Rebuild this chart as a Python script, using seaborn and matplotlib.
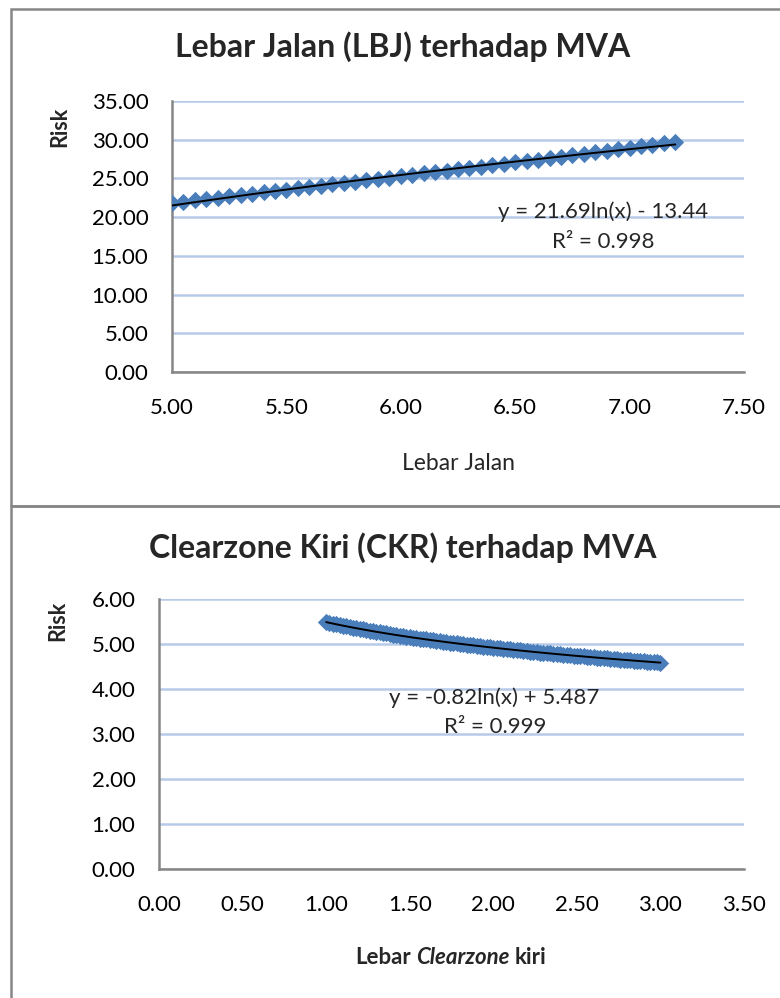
import numpy as np
import pandas as pd
import matplotlib
matplotlib.use('Agg')
import matplotlib.pyplot as plt
from matplotlib.patches import Rectangle
import seaborn as sns

sns.set_theme(style='white')
plt.rcParams['font.family'] = ['Lato', 'DejaVu Sans']

# ---- data: Lebar Jalan (LBJ) vs risk ----
lbj_x = [5.00, 5.05, 5.10, 5.15, 5.20, 5.25, 5.30, 5.35, 5.40, 5.45,
         5.50, 5.55, 5.60, 5.65, 5.70, 5.75, 5.80, 5.85, 5.90, 5.95,
         6.00, 6.05, 6.10, 6.15, 6.20, 6.25, 6.30, 6.35, 6.40, 6.45,
         6.50, 6.55, 6.60, 6.65, 6.70, 6.75, 6.80, 6.85, 6.90, 6.95,
         7.00, 7.05, 7.10, 7.15, 7.20]
lbj_risk = [21.80, 21.98, 22.15, 22.32, 22.49, 22.67, 22.84, 23.02, 23.19, 23.36,
            23.54, 23.70, 23.88, 24.05, 24.23, 24.40, 24.58, 24.75, 24.93, 25.10,
            25.28, 25.46, 25.64, 25.82, 25.99, 26.17, 26.35, 26.53, 26.71, 26.89,
            27.08, 27.26, 27.44, 27.62, 27.82, 28.00, 28.19, 28.38, 28.56, 28.75,
            28.94, 29.13, 29.32, 29.52, 29.71]

# ---- data: Clearzone kiri (CKR) vs risk ----
ckr_x = [1.00, 1.02, 1.04, 1.06, 1.08, 1.10, 1.12, 1.14, 1.16, 1.18,
         1.20, 1.22, 1.24, 1.26, 1.28, 1.30, 1.32, 1.34, 1.36, 1.38,
         1.40, 1.42, 1.44, 1.46, 1.48, 1.50, 1.52, 1.54, 1.56, 1.58,
         1.60, 1.62, 1.64, 1.66, 1.68, 1.70, 1.72, 1.74, 1.76, 1.78,
         1.80, 1.82, 1.84, 1.86, 1.88, 1.90, 1.92, 1.94, 1.96, 1.98,
         2.00, 2.02, 2.04, 2.06, 2.08, 2.10, 2.12, 2.14, 2.16, 2.18,
         2.20, 2.22, 2.24, 2.26, 2.28, 2.30, 2.32, 2.34, 2.36, 2.38,
         2.40, 2.42, 2.44, 2.46, 2.48, 2.50, 2.52, 2.54, 2.56, 2.58,
         2.60, 2.62, 2.64, 2.66, 2.68, 2.70, 2.72, 2.74, 2.76, 2.78,
         2.80, 2.82, 2.84, 2.86, 2.88, 2.90, 2.92, 2.94, 2.96, 2.98,
         3.00]
ckr_risk = [5.487, 5.471, 5.455, 5.439, 5.424, 5.409, 5.394, 5.380, 5.365, 5.351,
            5.337, 5.324, 5.311, 5.297, 5.285, 5.272, 5.259, 5.247, 5.235, 5.223,
            5.211, 5.199, 5.188, 5.177, 5.166, 5.155, 5.144, 5.133, 5.122, 5.112,
            5.102, 5.091, 5.081, 5.071, 5.062, 5.052, 5.042, 5.033, 5.023, 5.014,
            5.005, 4.996, 4.987, 4.978, 4.969, 4.961, 4.952, 4.944, 4.935, 4.927,
            4.919, 4.910, 4.902, 4.894, 4.886, 4.879, 4.871, 4.863, 4.856, 4.848,
            4.840, 4.833, 4.826, 4.818, 4.811, 4.804, 4.797, 4.790, 4.783, 4.776,
            4.769, 4.762, 4.756, 4.749, 4.742, 4.736, 4.729, 4.723, 4.716, 4.710,
            4.703, 4.697, 4.691, 4.685, 4.679, 4.673, 4.666, 4.660, 4.655, 4.649,
            4.643, 4.637, 4.631, 4.625, 4.620, 4.614, 4.608, 4.603, 4.597, 4.592,
            4.586]

lbj_yticks = [0, 5, 10, 15, 20, 25, 30, 35]
lbj_xticks = [5.0, 5.5, 6.0, 6.5, 7.0, 7.5]
ckr_yticks = [0, 1, 2, 3, 4, 5, 6]
ckr_xticks = [0.0, 0.5, 1.0, 1.5, 2.0, 2.5, 3.0, 3.5]

BLUE = '#4A7EBB'
GRID = '#B7CBE8'
SPINE = '#868686'
W, H = 780, 998
TICK_FS = 16
TITLE_FS = 23

fig = plt.figure(figsize=(W / 100, H / 100), dpi=100)


def px_axes(left, top, right, bottom):
    return fig.add_axes([left / W, 1 - bottom / H, (right - left) / W, (bottom - top) / H])


def draw_panel(ax, x, y, xticks, yticks):
    df = pd.DataFrame({'x': x, 'y': y})
    sns.scatterplot(data=df, x='x', y='y', marker='D', s=78, color=BLUE,
                    linewidth=0, ax=ax, zorder=3)
    # logarithmic trendline fitted to the data
    b, a = np.polyfit(np.log(df['x']), df['y'], 1)
    trend = pd.DataFrame({'x': df['x'], 'y': b * np.log(df['x']) + a})
    sns.lineplot(data=trend, x='x', y='y', color='black', linewidth=1.4, ax=ax, zorder=4)
    ax.set_xlim(xticks[0], xticks[-1])
    ax.set_ylim(yticks[0], yticks[-1])
    ax.set_xticks(xticks)
    ax.set_yticks(yticks)
    ax.set_xticklabels([f'{v:.2f}' for v in xticks])
    ax.set_yticklabels([f'{v:.2f}' for v in yticks])
    ax.grid(axis='y', color=GRID, linewidth=1.8)
    ax.set_axisbelow(True)
    for s in ['top', 'right']:
        ax.spines[s].set_visible(False)
    for s in ['left', 'bottom']:
        ax.spines[s].set_color(SPINE)
        ax.spines[s].set_linewidth(1.8)
    ax.tick_params(axis='both', length=0, labelsize=TICK_FS, colors='black')
    ax.tick_params(axis='y', pad=17)
    ax.tick_params(axis='x', pad=19)
    ax.set_xlabel('')
    ax.set_ylabel('')


# panel borders
for top, bottom in [(9, 506), (506, 1010)]:
    fig.patches.append(Rectangle((11 / W, 1 - bottom / H), (W + 10 - 11) / W, (bottom - top) / H,
                                 transform=fig.transFigure, fill=False,
                                 edgecolor=SPINE, linewidth=1.8))

# ---- top chart ----
ax1 = px_axes(172, 101, 744, 372)
draw_panel(ax1, lbj_x, lbj_risk, lbj_xticks, lbj_yticks)
fig.text(403 / W, 1 - 47 / H, 'Lebar Jalan (LBJ) terhadap MVA', ha='center', va='center',
         fontsize=TITLE_FS, fontweight='bold')
fig.text(60 / W, 1 - 127 / H, 'Risk', rotation=90, ha='center', va='center',
         fontsize=15.5, fontweight='bold')
fig.text(458 / W, 1 - 463 / H, 'Lebar Jalan', ha='center', va='center', fontsize=16.5)
fig.text(603 / W, 1 - 212 / H, 'y = 21.69ln(x) - 13.44', ha='center', va='center', fontsize=TICK_FS)
fig.text(603 / W, 1 - 242 / H, 'R² = 0.998', ha='center', va='center', fontsize=TICK_FS)

# ---- bottom chart ----
ax2 = px_axes(159, 599, 744, 869)
draw_panel(ax2, ckr_x, ckr_risk, ckr_xticks, ckr_yticks)
fig.text(403 / W, 1 - 548 / H, 'Clearzone Kiri (CKR) terhadap MVA', ha='center', va='center',
         fontsize=TITLE_FS, fontweight='bold')
fig.text(58 / W, 1 - 621 / H, 'Risk', rotation=90, ha='center', va='center',
         fontsize=15.5, fontweight='bold')
fig.text(494 / W, 1 - 698 / H, 'y = -0.82ln(x) + 5.487', ha='center', va='center', fontsize=TICK_FS)
fig.text(495 / W, 1 - 727 / H, 'R² = 0.999', ha='center', va='center', fontsize=TICK_FS)

# x label with italic middle word, pieces placed side by side
pieces = [('Lebar', 'normal'), ('Clearzone', 'italic'), ('kiri', 'normal')]
fig.canvas.draw()
renderer = fig.canvas.get_renderer()
texts = []
for txt, style in pieces:
    t = fig.text(0, 1 - 958 / H, txt, ha='left', va='center', fontsize=16,
                 fontweight='bold', fontstyle=style)
    texts.append(t)
widths = [t.get_window_extent(renderer).width for t in texts]
gap = 5
x0 = 451 - (sum(widths) + gap * (len(texts) - 1)) / 2
for t, w in zip(texts, widths):
    t.set_x(x0 / W)
    x0 += w + gap

fig.savefig('out.png', dpi=100)
